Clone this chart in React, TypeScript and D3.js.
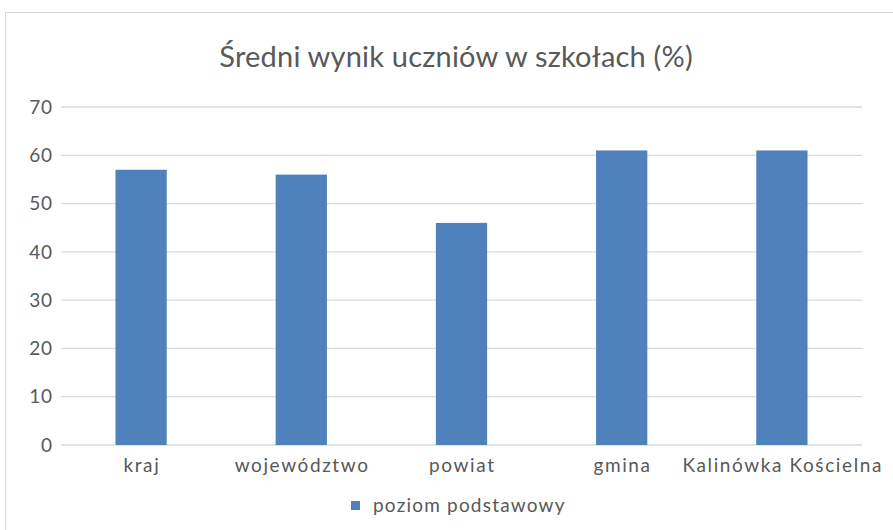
import React from "react";
import * as d3 from "d3";

const categories = ["kraj", "województwo", "powiat", "gmina", "Kalinówka Kościelna"];
const values = [57, 56, 46, 61, 61];
const yTicks = [0, 10, 20, 30, 40, 50, 60, 70];
const title = "Średni wynik uczniów w szkołach (%)";
const seriesName = "poziom podstawowy";

const W = 893;
const H = 530;
const FONT = "Lato, 'Open Sans', sans-serif";
const TEXT = "#595959";
const BAR = "#4f81bd";
const GRID = "#d9d9d9";

export default function App() {
  const left = 61;
  const right = 862;
  const top = 107;
  const bottom = 445;
  const x = d3.scaleBand<string>().domain(categories).range([left, right]).paddingInner(0.68).paddingOuter(0.34);
  const y = d3.scaleLinear().domain([0, 70]).range([bottom, top]);
  const lsLabel = 1.6;
  const lsTick = 0.6;
  const lsLegend = 1.2;
  const lsTitle = 0.2;

  return (
    <svg width={W} height={H} style={{ position: "absolute", left: 0, top: 0, background: "#fff" }}>
      <rect x={5.5} y={12.5} width={W + 10} height={H + 10} fill="#fff" stroke={GRID} strokeWidth={1} />
      <text x={456 + lsTitle / 2} y={67} textAnchor="middle" fontFamily={FONT} fontSize={29} letterSpacing={lsTitle} fill={TEXT}>
        {title}
      </text>
      {yTicks.map((t) => (
        <g key={t}>
          <line x1={left} x2={right} y1={y(t)} y2={y(t)} stroke={GRID} strokeWidth={1.3} />
          <text x={52 + lsTick} y={y(t)} dy="0.35em" textAnchor="end" fontFamily={FONT} fontSize={19} letterSpacing={lsTick} fill={TEXT}>
            {t}
          </text>
        </g>
      ))}
      {categories.map((c, i) => (
        <rect key={c} x={x(c)} y={y(values[i])} width={x.bandwidth()} height={y(0) - y(values[i])} fill={BAR} />
      ))}
      {categories.map((c) => (
        <text key={c} x={(x(c) as number) + x.bandwidth() / 2 + lsLabel / 2} y={472} textAnchor="middle" fontFamily={FONT} fontSize={19} letterSpacing={lsLabel} fill={TEXT}>
          {c}
        </text>
      ))}
      <rect x={351} y={501} width={9} height={9} fill={BAR} />
      <text x={373} y={512} fontFamily={FONT} fontSize={19} letterSpacing={lsLegend} fill={TEXT}>
        {seriesName}
      </text>
    </svg>
  );
}
